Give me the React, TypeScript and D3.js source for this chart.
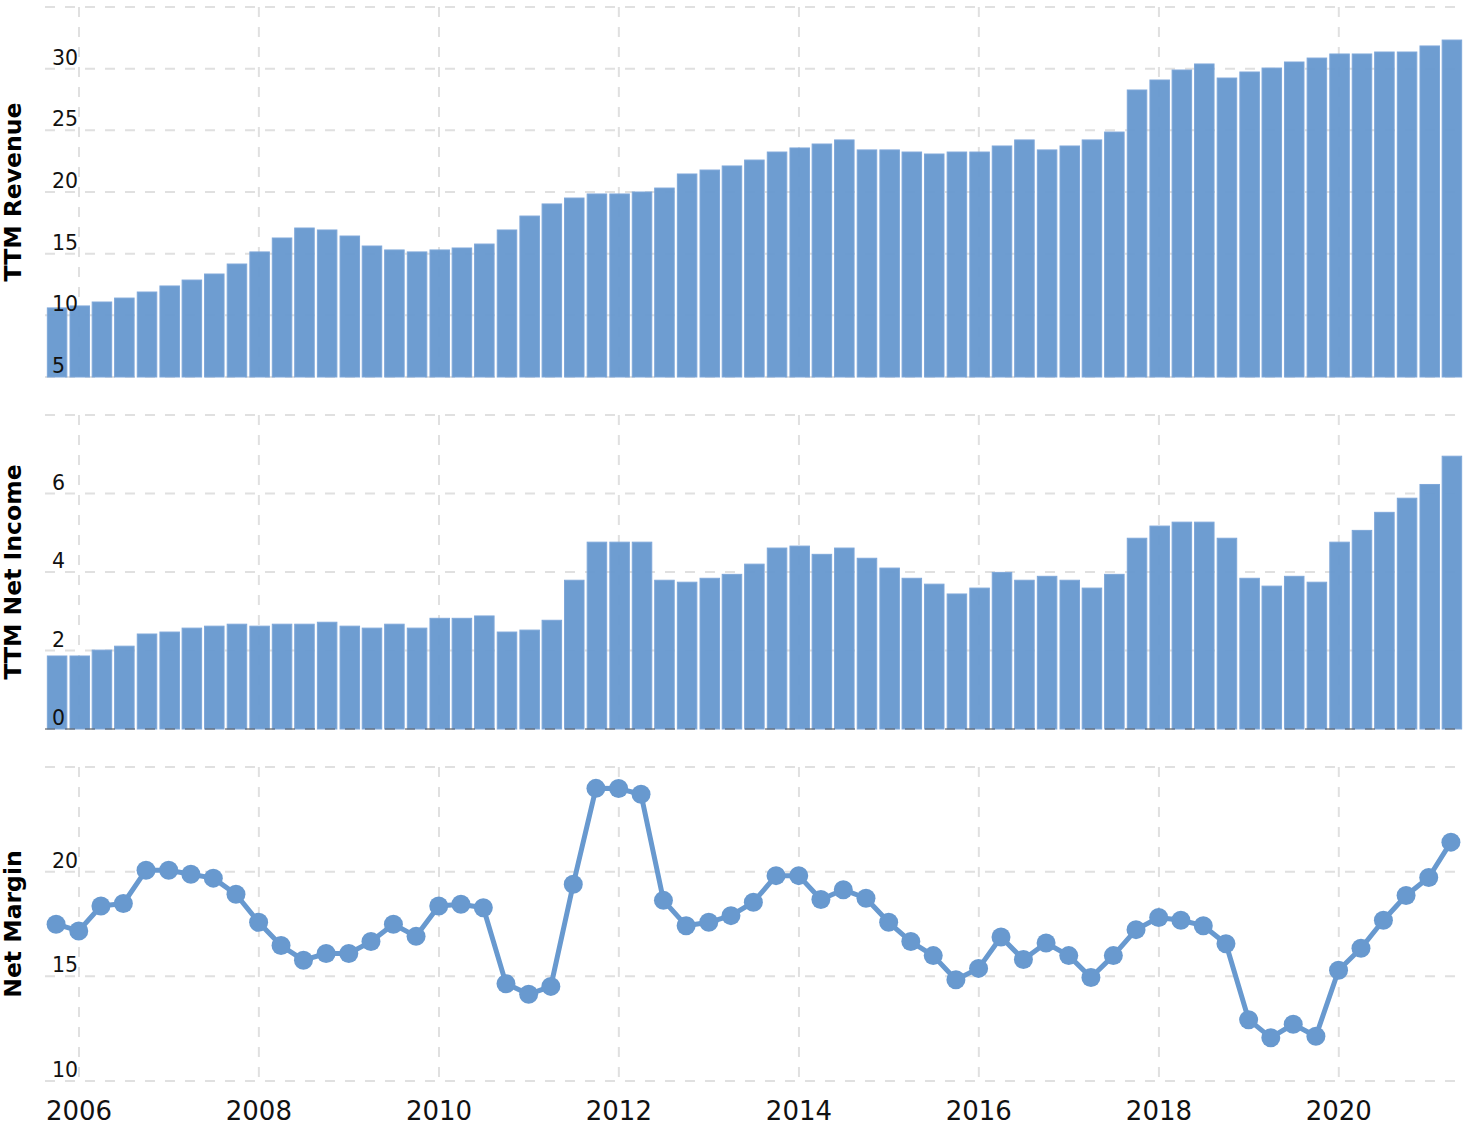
import React from "react";
import * as d3 from "d3";

const quarterDates = [
  "2005-09-30", "2005-12-31",
  "2006-03-31", "2006-06-30", "2006-09-30", "2006-12-31",
  "2007-03-31", "2007-06-30", "2007-09-30", "2007-12-31",
  "2008-03-31", "2008-06-30", "2008-09-30", "2008-12-31",
  "2009-03-31", "2009-06-30", "2009-09-30", "2009-12-31",
  "2010-03-31", "2010-06-30", "2010-09-30", "2010-12-31",
  "2011-03-31", "2011-06-30", "2011-09-30", "2011-12-31",
  "2012-03-31", "2012-06-30", "2012-09-30", "2012-12-31",
  "2013-03-31", "2013-06-30", "2013-09-30", "2013-12-31",
  "2014-03-31", "2014-06-30", "2014-09-30", "2014-12-31",
  "2015-03-31", "2015-06-30", "2015-09-30", "2015-12-31",
  "2016-03-31", "2016-06-30", "2016-09-30", "2016-12-31",
  "2017-03-31", "2017-06-30", "2017-09-30", "2017-12-31",
  "2018-03-31", "2018-06-30", "2018-09-30", "2018-12-31",
  "2019-03-31", "2019-06-30", "2019-09-30", "2019-12-31",
  "2020-03-31", "2020-06-30", "2020-09-30", "2020-12-31",
  "2021-03-31",
];

const ttmRevenue = [
  10.6, 10.76, 11.08, 11.4, 11.89, 12.38, 12.86, 13.35, 14.16, 15.14,
  16.27, 17.08, 16.92, 16.43, 15.62, 15.3, 15.14, 15.3, 15.46, 15.78,
  16.92, 18.05, 19.03, 19.51, 19.84, 19.84, 20.0, 20.32, 21.46, 21.78,
  22.11, 22.59, 23.24, 23.57, 23.89, 24.22, 23.41, 23.41, 23.24, 23.08,
  23.24, 23.24, 23.73, 24.22, 23.41, 23.73, 24.22, 24.86, 28.27, 29.08,
  29.89, 30.38, 29.24, 29.73, 30.05, 30.54, 30.86, 31.19, 31.19, 31.35,
  31.35, 31.84, 32.32,
];

const ttmNetIncome = [
  1.86, 1.86, 2.01, 2.11, 2.42, 2.47, 2.57, 2.62, 2.67, 2.62,
  2.67, 2.67, 2.72, 2.62, 2.57, 2.67, 2.57, 2.82, 2.82, 2.88,
  2.47, 2.52, 2.77, 3.79, 4.76, 4.76, 4.76, 3.79, 3.74, 3.84,
  3.94, 4.2, 4.61, 4.66, 4.45, 4.61, 4.35, 4.1, 3.84, 3.69,
  3.44, 3.59, 3.99, 3.79, 3.89, 3.79, 3.59, 3.94, 4.86, 5.17,
  5.27, 5.27, 4.86, 3.84, 3.64, 3.89, 3.74, 4.76, 5.06, 5.52,
  5.88, 6.23, 6.95,
];

const netMargin = [
  17.49, 17.17, 18.36, 18.48, 20.07, 20.07, 19.88, 19.69, 18.92, 17.58,
  16.47, 15.77, 16.09, 16.09, 16.66, 17.49, 16.91, 18.36, 18.44, 18.28,
  14.65, 14.14, 14.52, 19.4, 23.98, 23.97, 23.7, 18.63, 17.42, 17.58,
  17.9, 18.54, 19.81, 19.81, 18.67, 19.14, 18.73, 17.58, 16.66, 15.99,
  14.84, 15.38, 16.88, 15.8, 16.59, 15.99, 14.94, 15.99, 17.23, 17.81,
  17.68, 17.42, 16.56, 12.93, 12.07, 12.71, 12.14, 15.29, 16.34, 17.68,
  18.86, 19.72, 21.41,
];

const revenueTicks = [5, 10, 15, 20, 25, 30, 35];
const revenueLabels = [5, 10, 15, 20, 25, 30];
const incomeTicks = [0, 2, 4, 6, 8];
const incomeLabels = [0, 2, 4, 6];
const marginTicks = [10, 15, 20, 25];
const marginLabels = [10, 15, 20];
const yearTicks = [2006, 2008, 2010, 2012, 2014, 2016, 2018, 2020];

const W = 1468;
const H = 1128;
const BLUE = "#6899cf";
const GRID = "#e0e0e0";
const FONT = "'DejaVu Sans', Verdana, sans-serif";

const parse = d3.utcParse("%Y-%m-%d");
const dates = quarterDates.map((s) => parse(s) as Date);

const x = d3
  .scaleUtc()
  .domain([parse("2005-08-16") as Date, parse("2021-05-15") as Date])
  .range([45, 1462]);

const panels = [
  { title: "TTM Revenue", y: d3.scaleLinear().domain([5, 35]).range([377, 7]), ticks: revenueTicks, labels: revenueLabels, values: ttmRevenue, kind: "bar" },
  { title: "TTM Net Income", y: d3.scaleLinear().domain([0, 8]).range([729, 415]), ticks: incomeTicks, labels: incomeLabels, values: ttmNetIncome, kind: "bar" },
  { title: "Net Margin", y: d3.scaleLinear().domain([10, 25]).range([1081, 767]), ticks: marginTicks, labels: marginLabels, values: netMargin, kind: "line" },
];

function Panel({ p }: { p: any }) {
  const y = p.y;
  const [y0, y1] = y.range();
  const [xl, xr] = x.range();
  const mid = (y0 + y1) / 2;
  const base = y.domain()[0];
  const line = d3
    .line<number>()
    .x((_, i) => x(dates[i]))
    .y((v) => y(v));
  return (
    <g>
      {p.ticks.map((t: number) => (
        <line key={"h" + t} x1={xl} x2={xr} y1={y(t)} y2={y(t)} stroke={GRID} strokeWidth={2} strokeDasharray="10,10" />
      ))}
      {yearTicks.map((yr) => {
        const xx = x(Date.UTC(yr, 0, 1));
        return <line key={"v" + yr} x1={xx} x2={xx} y1={y1} y2={y0} stroke={GRID} strokeWidth={2} strokeDasharray="10,10" />;
      })}
      {p.kind === "bar" &&
        p.values.map((v: number, i: number) => (
          <rect
            key={i}
            x={x(dates[i]) - 8.75}
            y={y(v)}
            width={19.5}
            height={y(base) - y(v)}
            fill={BLUE}
            fillOpacity={0.96}
            stroke="#7ea7d9"
            strokeWidth={1}
          />
        ))}
      {p.kind === "bar" && base === 0 && (
        <line x1={xl} x2={xr} y1={y(0)} y2={y(0)} stroke="#555" strokeOpacity={0.45} strokeWidth={2} strokeDasharray="10,10" />
      )}
      {p.kind === "line" && (
        <g>
          <path d={line(p.values) as string} fill="none" stroke={BLUE} strokeWidth={5} strokeLinejoin="round" />
          {p.values.map((v: number, i: number) => (
            <circle key={i} cx={x(dates[i])} cy={y(v)} r={9.5} fill={BLUE} />
          ))}
        </g>
      )}
      {p.labels.map((t: number) => (
        <text key={"l" + t} x={52} y={y(t) - 4} fontSize={20.5} fontFamily={FONT} fill="#111">
          {t}
        </text>
      ))}
      <text
        transform={`translate(13,${mid}) rotate(-90)`}
        textAnchor="middle"
        dominantBaseline="central"
        fontSize={23.5}
        fontWeight="bold"
        fontFamily={FONT}
        fill="#000"
      >
        {p.title}
      </text>
    </g>
  );
}

export default function App() {
  return (
    <svg width={W} height={H} style={{ position: "absolute", left: 0, top: 0, background: "#fff" }}>
      <rect x={0} y={0} width={W} height={H} fill="#fff" />
      {panels.map((p) => (
        <Panel key={p.title} p={p} />
      ))}
      {yearTicks.map((yr) => (
        <text key={yr} x={x(Date.UTC(yr, 0, 1))} y={1120} textAnchor="middle" fontSize={26} fontFamily={FONT} fill="#111">
          {yr}
        </text>
      ))}
    </svg>
  );
}
